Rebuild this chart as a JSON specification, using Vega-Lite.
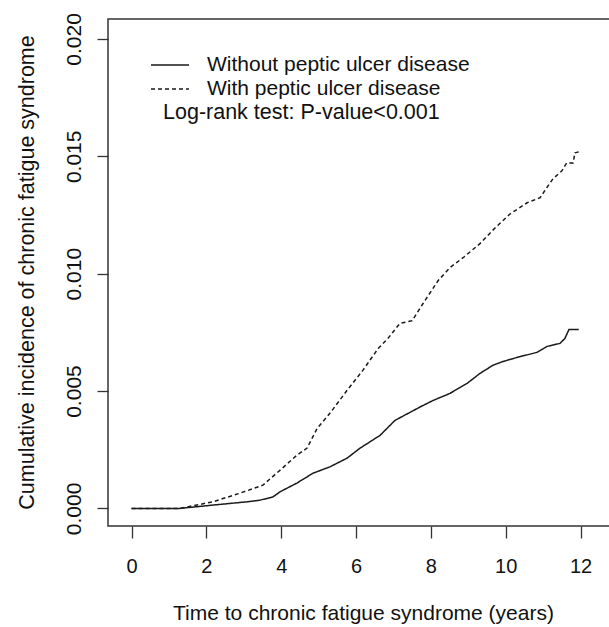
{
  "$schema": "https://vega.github.io/schema/vega-lite/v6.json",
  "width": 510,
  "height": 507,
  "autosize": {"type": "none"},
  "padding": {"left": 108, "top": 19, "right": 0, "bottom": 101},
  "background": "white",
  "config": {
    "font": "Liberation Sans",
    "view": {"stroke": "#333", "strokeWidth": 1.5},
    "axis": {"grid": false, "domain": false, "tickColor": "#333", "tickWidth": 1.3, "labelFontSize": 20, "labelColor": "#111", "titleFontSize": 21, "titleFontWeight": "normal", "titleColor": "#111", "labelFont": "Liberation Sans", "titleFont": "Liberation Sans"}
  },
  "datasets": {
    "curves": [
      {"group": "Without peptic ulcer disease", "t": 0, "ci": 0},
      {"group": "Without peptic ulcer disease", "t": 1.29, "ci": 0},
      {"group": "Without peptic ulcer disease", "t": 2.17, "ci": 0.00014},
      {"group": "Without peptic ulcer disease", "t": 3.08, "ci": 0.00028},
      {"group": "Without peptic ulcer disease", "t": 3.43, "ci": 0.00035},
      {"group": "Without peptic ulcer disease", "t": 3.78, "ci": 0.00049},
      {"group": "Without peptic ulcer disease", "t": 3.97, "ci": 0.00071},
      {"group": "Without peptic ulcer disease", "t": 4.42, "ci": 0.00108},
      {"group": "Without peptic ulcer disease", "t": 4.85, "ci": 0.0015},
      {"group": "Without peptic ulcer disease", "t": 5.3, "ci": 0.00177},
      {"group": "Without peptic ulcer disease", "t": 5.76, "ci": 0.00214},
      {"group": "Without peptic ulcer disease", "t": 6.1, "ci": 0.00256},
      {"group": "Without peptic ulcer disease", "t": 6.64, "ci": 0.00311},
      {"group": "Without peptic ulcer disease", "t": 7.04, "ci": 0.00375},
      {"group": "Without peptic ulcer disease", "t": 7.71, "ci": 0.00432},
      {"group": "Without peptic ulcer disease", "t": 8.06, "ci": 0.0046},
      {"group": "Without peptic ulcer disease", "t": 8.51, "ci": 0.0049},
      {"group": "Without peptic ulcer disease", "t": 8.97, "ci": 0.00533},
      {"group": "Without peptic ulcer disease", "t": 9.31, "ci": 0.00575},
      {"group": "Without peptic ulcer disease", "t": 9.66, "ci": 0.0061},
      {"group": "Without peptic ulcer disease", "t": 9.93, "ci": 0.00626},
      {"group": "Without peptic ulcer disease", "t": 10.3, "ci": 0.00643},
      {"group": "Without peptic ulcer disease", "t": 10.84, "ci": 0.00665},
      {"group": "Without peptic ulcer disease", "t": 11.1, "ci": 0.0069},
      {"group": "Without peptic ulcer disease", "t": 11.45, "ci": 0.00703},
      {"group": "Without peptic ulcer disease", "t": 11.58, "ci": 0.00724},
      {"group": "Without peptic ulcer disease", "t": 11.69, "ci": 0.00762},
      {"group": "Without peptic ulcer disease", "t": 11.95, "ci": 0.00762},
      {"group": "With peptic ulcer disease", "t": 0, "ci": 0},
      {"group": "With peptic ulcer disease", "t": 1.29, "ci": 0},
      {"group": "With peptic ulcer disease", "t": 2.17, "ci": 0.00028},
      {"group": "With peptic ulcer disease", "t": 2.9, "ci": 0.00065},
      {"group": "With peptic ulcer disease", "t": 3.51, "ci": 0.00099},
      {"group": "With peptic ulcer disease", "t": 3.97, "ci": 0.00163},
      {"group": "With peptic ulcer disease", "t": 4.42, "ci": 0.00227},
      {"group": "With peptic ulcer disease", "t": 4.69, "ci": 0.00257},
      {"group": "With peptic ulcer disease", "t": 4.96, "ci": 0.00341},
      {"group": "With peptic ulcer disease", "t": 5.3, "ci": 0.00405},
      {"group": "With peptic ulcer disease", "t": 5.76, "ci": 0.00503},
      {"group": "With peptic ulcer disease", "t": 6.18, "ci": 0.00588},
      {"group": "With peptic ulcer disease", "t": 6.59, "ci": 0.00681},
      {"group": "With peptic ulcer disease", "t": 6.85, "ci": 0.00724},
      {"group": "With peptic ulcer disease", "t": 7.17, "ci": 0.00788},
      {"group": "With peptic ulcer disease", "t": 7.5, "ci": 0.008},
      {"group": "With peptic ulcer disease", "t": 7.79, "ci": 0.00873},
      {"group": "With peptic ulcer disease", "t": 8.19, "ci": 0.0097},
      {"group": "With peptic ulcer disease", "t": 8.51, "ci": 0.01026},
      {"group": "With peptic ulcer disease", "t": 8.86, "ci": 0.01068},
      {"group": "With peptic ulcer disease", "t": 9.31, "ci": 0.01128},
      {"group": "With peptic ulcer disease", "t": 9.72, "ci": 0.01196},
      {"group": "With peptic ulcer disease", "t": 10.12, "ci": 0.01255},
      {"group": "With peptic ulcer disease", "t": 10.57, "ci": 0.01302},
      {"group": "With peptic ulcer disease", "t": 10.92, "ci": 0.01324},
      {"group": "With peptic ulcer disease", "t": 11.1, "ci": 0.01367},
      {"group": "With peptic ulcer disease", "t": 11.26, "ci": 0.01404},
      {"group": "With peptic ulcer disease", "t": 11.5, "ci": 0.01438},
      {"group": "With peptic ulcer disease", "t": 11.63, "ci": 0.01472},
      {"group": "With peptic ulcer disease", "t": 11.8, "ci": 0.01472},
      {"group": "With peptic ulcer disease", "t": 11.85, "ci": 0.01515},
      {"group": "With peptic ulcer disease", "t": 11.95, "ci": 0.01519}
    ],
    "note": [
      {"label": "Log-rank test: P-value<0.001", "t": 0.84, "ci": 0.01685}
    ]
  },
  "layer": [
    {
      "data": {"name": "curves"},
      "mark": {"type": "line", "strokeWidth": 1.5, "color": "#1a1a1a", "interpolate": "linear"},
      "encoding": {
        "x": {
          "field": "t", "type": "quantitative",
          "scale": {"domain": [-0.63, 13.0], "nice": false, "zero": false},
          "axis": {"values": [0, 2, 4, 6, 8, 10, 12], "tickSize": 12, "labelPadding": 18, "title": "Time to chronic fatigue syndrome (years)", "titleY": 87, "titleBaseline": "middle"}
        },
        "y": {
          "field": "ci", "type": "quantitative",
          "scale": {"domain": [-0.00075, 0.02085], "nice": false, "zero": false},
          "axis": {"values": [0, 0.005, 0.01, 0.015, 0.02], "format": ".3f", "tickSize": 11, "labelAngle": -90, "labelAlign": "center", "labelBaseline": "bottom", "labelPadding": 13, "labelFontSize": 21, "title": "Cumulative incidence of chronic fatigue syndrome", "titleFontSize": 21.5, "titleX": -81, "titleY": 253, "titleAngle": -90, "titleAlign": "center", "titleBaseline": "middle"}
        },
        "strokeDash": {
          "field": "group", "type": "nominal",
          "scale": {"domain": ["Without peptic ulcer disease", "With peptic ulcer disease"], "range": [[1, 0], [4, 3]]},
          "legend": {
            "orient": "none", "legendX": 42, "legendY": 35, "title": null,
            "symbolType": "stroke", "symbolSize": 1444, "symbolStrokeWidth": 1.5, "symbolStrokeColor": "#1a1a1a",
            "labelFontSize": 21, "labelColor": "#111", "labelOffset": 17, "rowPadding": 2, "clipHeight": 22, "labelLimit": 500, "labelFont": "Liberation Sans"
          }
        },
        "detail": {"field": "group"}
      }
    },
    {
      "data": {"name": "note"},
      "mark": {"type": "text", "align": "left", "baseline": "middle", "fontSize": 21.5, "color": "#111", "font": "Liberation Sans"},
      "encoding": {
        "x": {"field": "t", "type": "quantitative"},
        "y": {"field": "ci", "type": "quantitative"},
        "text": {"field": "label"}
      }
    }
  ]
}
